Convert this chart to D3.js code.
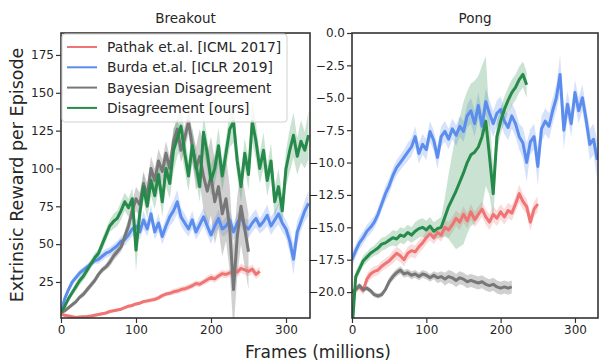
<!DOCTYPE html>
<html>
<head>
<meta charset="utf-8">
<script src="https://cdn.jsdelivr.net/npm/d3@7"></script>
<style>
  body { margin: 0; background: #fff; }
  svg text { font-family: "DejaVu Sans", sans-serif; fill: #262626; }
</style>
</head>
<body>
<svg id="chart" width="600" height="363"></svg>
<script>
// frames (millions) between samples
var step = 5

var seriesNames = ['Pathak et.al. [ICML 2017]', 'Burda et.al. [ICLR 2019]', 'Bayesian Disagreement', 'Disagreement [ours]']
var seriesColors = ['#f07474', '#5b8def', '#777777', '#268a4a']

// Breakout
var breakoutPathak = [4,3,2.5,2,1.5,1.8,2,2.2,2.5,3,3.5,4,4.5,5.5,6,6.5,7,8,9,9.5,10.5,11,12,12.5,13,13.5,14.5,16,17,17.5,18.5,19,20,20.5,21.5,22.5,24,23.5,25,26.5,28,27,29,30.5,30,31,32,31.5,34,33,32,33.5,30,32]
var breakoutPathakSd = [1,1,1,1,1,1,1,1,1,1,1,1,1,1,1,1,1,1,1.2,1.2,1.2,1.2,1.2,1.5,1.5,1.5,1.5,1.5,1.5,1.5,2,2,2,2,2,2,2,2,2,2.5,2.5,2.5,2.5,2.5,2.5,2.5,2.5,3,3,3,3,3,3,3]
var breakoutBurda = [5,14,20,25,28,31,33,35,37,39,40,42,44,45,47,49,52,53,56,60,62,58,66,60,70,58,64,55,62,68,72,78,68,64,60,66,58,63,68,62,56,62,67,60,62,66,58,64,68,62,60,64,67,62,65,69,62,66,70,64,60,52,40,58,65,72,77]
var breakoutBurdaSd = [1,2,2,2,2,2,2,2,2,2,3,3,3,3,3,3,3,4,4,5,5,5,6,5,6,5,6,5,6,6,7,8,6,6,5,6,5,6,6,6,6,5,6,5,6,6,6,6,6,5,6,6,6,5,6,7,6,6,7,6,6,8,10,8,6,7,8]
var breakoutBayes = [5,6,8,10,12,15,17,20,23,26,30,33,35,38,42,45,48,55,62,72,80,76,90,82,100,92,105,98,110,100,118,126,112,120,131,115,100,108,95,85,95,78,88,70,80,60,20,55,75,60,45]
var breakoutBayesSd = [1,1,1,1.5,1.5,1.5,2,2,2,2,2,2,2,3,3,3,3,4,5,6,8,8,8,8,8,8,8,8,8,8,8,8,8,8,8,10,14,18,22,25,26,28,28,28,28,28,28,26,25,25,25]
var breakoutOurs = [5,9,14,18,22,26,29,33,37,41,44,50,56,62,65,67,72,78,74,80,46,70,88,75,92,82,96,78,100,90,112,120,128,110,95,115,102,88,124,110,92,100,115,95,110,126,131,105,88,110,96,131,118,100,112,92,105,78,88,72,100,112,122,108,118,112,122]
var breakoutOursSd = [1,2,2,2,3,3,3,3,3,3,3,4,4,4,5,5,6,6,6,7,14,8,9,8,10,9,10,10,12,10,14,12,15,12,10,12,10,10,12,10,10,10,12,10,10,12,14,10,10,10,10,14,12,10,12,10,12,10,12,10,12,14,15,12,14,12,16]

// Pong
var pongPathak = [-20,-19.8,-19.6,-19.9,-19,-18.6,-18.4,-18.3,-18,-17.8,-17.6,-17.3,-17,-17.2,-17.5,-17,-16.8,-16.9,-16.5,-16.2,-15.8,-15.5,-15.8,-15.4,-15.6,-15,-15.2,-14.8,-14.3,-14.6,-14,-14.5,-13.8,-14.4,-14,-13.6,-14.2,-14.6,-14,-14.3,-13.8,-14.2,-13.7,-13.9,-13.2,-12.4,-13,-13.4,-14.6,-13.6,-13.2]
var pongPathakSd = [0.2,0.3,0.3,0.3,0.4,0.4,0.4,0.4,0.4,0.4,0.4,0.5,0.5,0.5,0.5,0.5,0.5,0.5,0.5,0.5,0.5,0.5,0.5,0.5,0.5,0.6,0.6,0.6,0.6,0.6,0.6,0.6,0.6,0.6,0.6,0.6,0.6,0.6,0.6,0.6,0.6,0.6,0.6,0.6,0.6,0.7,0.6,0.6,0.7,0.6,0.6]
var pongBurda = [-17.5,-16.8,-16.2,-15.8,-15.3,-15,-14.6,-14,-13.2,-12.4,-11.8,-11,-10.4,-10,-9.6,-9.2,-8.8,-8,-9.3,-8.6,-9,-7.6,-8.3,-9.6,-8,-7.6,-8.2,-7.4,-7.9,-7.2,-7.6,-6.4,-6,-7,-5.6,-7.2,-5.3,-6.2,-7,-6.2,-5.9,-6.8,-7.3,-6.4,-7,-8,-8.5,-10,-8.4,-8,-10.3,-7.4,-6.8,-7.2,-6,-5,-3.2,-7.5,-5.5,-7,-4.6,-6,-5,-6.7,-8.6,-8.2,-9.8]
var pongBurdaSd = [0.6,0.5,0.5,0.5,0.5,0.5,0.5,0.5,0.5,0.6,0.6,0.6,0.6,0.6,0.6,0.7,0.7,0.8,0.8,0.8,0.8,0.8,0.8,0.9,0.8,0.8,0.8,0.8,0.8,0.8,0.8,0.9,1,1,1,1,1,1,1,1,1,1,1,1,1,1,1.2,1.5,1,1,1.5,1,1,1,1,1,1.5,1.5,1,1,1,1,1,1,1.2,1.2,1.5]
var pongBayes = [-20,-19.8,-19.5,-19.8,-19.7,-19.9,-20.2,-20.3,-20.2,-19.8,-19.2,-18.8,-18.5,-18.3,-18.6,-18.5,-18.7,-18.6,-18.8,-18.6,-18.7,-18.9,-18.7,-18.9,-18.8,-19,-18.8,-18.9,-19.1,-18.9,-19,-19.2,-19.1,-19.2,-19.3,-19.2,-19.4,-19.5,-19.4,-19.6,-19.7,-19.6,-19.7,-19.6]
var pongBayesSd = [0.1,0.2,0.2,0.2,0.2,0.2,0.2,0.2,0.2,0.2,0.3,0.3,0.3,0.3,0.3,0.3,0.3,0.3,0.3,0.3,0.3,0.3,0.3,0.4,0.4,0.5,0.5,0.5,0.5,0.5,0.5,0.5,0.5,0.5,0.5,0.5,0.5,0.5,0.5,0.5,0.5,0.5,0.5,0.5]
var pongOurs = [-23,-18.8,-18.2,-17.6,-17.3,-17,-16.8,-16.6,-16.3,-16.2,-16,-15.8,-15.9,-15.6,-15.7,-15.4,-15.6,-15.3,-15.1,-15,-15.2,-14.9,-15.3,-15.1,-15,-14.2,-13.4,-12.8,-12.2,-11.5,-10.8,-10,-9.4,-9.2,-8.8,-8,-6.8,-9.5,-12.4,-8,-6.8,-5.9,-5.2,-4.6,-4.2,-3.6,-3.2,-4]
var pongOursSd = [0.3,0.4,0.4,0.4,0.4,0.4,0.4,0.5,0.5,0.5,0.5,0.6,0.6,0.6,0.6,0.6,0.6,0.7,0.7,0.7,0.7,0.7,0.7,0.7,0.8,1.5,2.5,3.5,4.5,5,5.5,5.5,5.5,5.5,5.5,5.5,5,3,2,1.2,1,1,1,1,1,1,1,1]

var breakoutTicksY = [25, 50, 75, 100, 125, 150, 175]
var pongTicksY = [0, -2.5, -5, -7.5, -10, -12.5, -15, -17.5, -20]
var ticksX = [0, 100, 200, 300]

var svg = d3.select('#chart')

function draw_panel(title, left, right, xdomain, ydomain, yticks, yfmt, series, sds) {
	var top = 33, bottom = 318
	var xs = d3.scaleLinear().domain(xdomain).range([left, right])
	var ys = d3.scaleLinear().domain(ydomain).range([bottom, top])
	var g = svg.append('g')
	var clipId = 'clip' + left
	g.append('clipPath').attr('id', clipId)
		.append('rect').attr('x', left).attr('y', top).attr('width', right - left).attr('height', bottom - top)

	var plot = g.append('g').attr('clip-path', 'url(#' + clipId + ')')

	series.forEach(function(vals, k) {
		var sd = sds[k]
		var pts = vals.map(function(v, i) { return {x: i * step, y: v, s: sd[i] || 0} })
		var area = d3.area()
			.x(function(d) { return xs(d.x) })
			.y0(function(d) { return ys(d.y - d.s) })
			.y1(function(d) { return ys(d.y + d.s) })
		plot.append('path').datum(pts)
			.attr('d', area)
			.attr('fill', seriesColors[k])
			.attr('fill-opacity', k == 2 ? 0.35 : 0.25)
	})
	series.forEach(function(vals, k) {
		var line = d3.line()
			.x(function(d, i) { return xs(i * step) })
			.y(function(d) { return ys(d) })
		plot.append('path').datum(vals)
			.attr('d', line)
			.attr('fill', 'none')
			.attr('stroke', seriesColors[k])
			.attr('stroke-width', 3)
			.attr('stroke-linejoin', 'round')
	})

	var ax = g.append('g')
		.attr('transform', 'translate(0,' + bottom + ')')
		.call(d3.axisBottom(xs).tickValues(ticksX).tickFormat(d3.format('d')).tickSize(5).tickPadding(2))
	var ay = g.append('g')
		.attr('transform', 'translate(' + left + ',0)')
		.call(d3.axisLeft(ys).tickValues(yticks).tickFormat(yfmt).tickSize(5).tickPadding(2))
	;[ax, ay].forEach(function(a) {
		a.select('.domain').remove()
		a.selectAll('line').attr('stroke', '#333').attr('stroke-width', 1.2)
		a.selectAll('text').style('font-size', '12px').attr('fill', '#262626')
	})

	g.append('rect')
		.attr('x', left).attr('y', top)
		.attr('width', right - left).attr('height', bottom - top)
		.attr('fill', 'none').attr('stroke', '#333').attr('stroke-width', 1.6)

	g.append('text')
		.attr('x', (left + right) / 2).attr('y', 23)
		.attr('text-anchor', 'middle')
		.style('font-size', '13.5px')
		.text(title)
}

draw_panel('Breakout', 61, 310, [0, 332], [1.2, 189.5], breakoutTicksY, d3.format('d'),
	[breakoutPathak, breakoutBurda, breakoutBayes, breakoutOurs],
	[breakoutPathakSd, breakoutBurdaSd, breakoutBayesSd, breakoutOursSd])

draw_panel('Pong', 352, 598, [0, 331], [-22, 0], pongTicksY, function(d) { return d3.format('.1f')(d).replace('-', '\u2212') },
	[pongPathak, pongBurda, pongBayes, pongOurs],
	[pongPathakSd, pongBurdaSd, pongBayesSd, pongOursSd])

// legend
var legend = svg.append('g')
legend.append('rect')
	.attr('x', 62).attr('y', 34).attr('width', 225).attr('height', 88)
	.attr('rx', 3)
	.attr('fill', '#fff').attr('fill-opacity', 0.8)
	.attr('stroke', '#d0d0d0').attr('stroke-width', 1)
seriesNames.forEach(function(name, k) {
	var y = 47 + k * 20.3
	legend.append('line')
		.attr('x1', 67).attr('x2', 97).attr('y1', y).attr('y2', y)
		.attr('stroke', seriesColors[k]).attr('stroke-width', 2)
	legend.append('text')
		.attr('x', 107).attr('y', y + 5)
		.style('font-size', '13.8px')
		.text(name)
})

svg.append('text')
	.attr('transform', 'translate(23,175) rotate(-90)')
	.attr('text-anchor', 'middle')
	.style('font-size', '17.5px')
	.text('Extrinsic Reward per Episode')

svg.append('text')
	.attr('x', 318).attr('y', 358)
	.attr('text-anchor', 'middle')
	.style('font-size', '17px')
	.text('Frames (millions)')
</script>
</body>
</html>
